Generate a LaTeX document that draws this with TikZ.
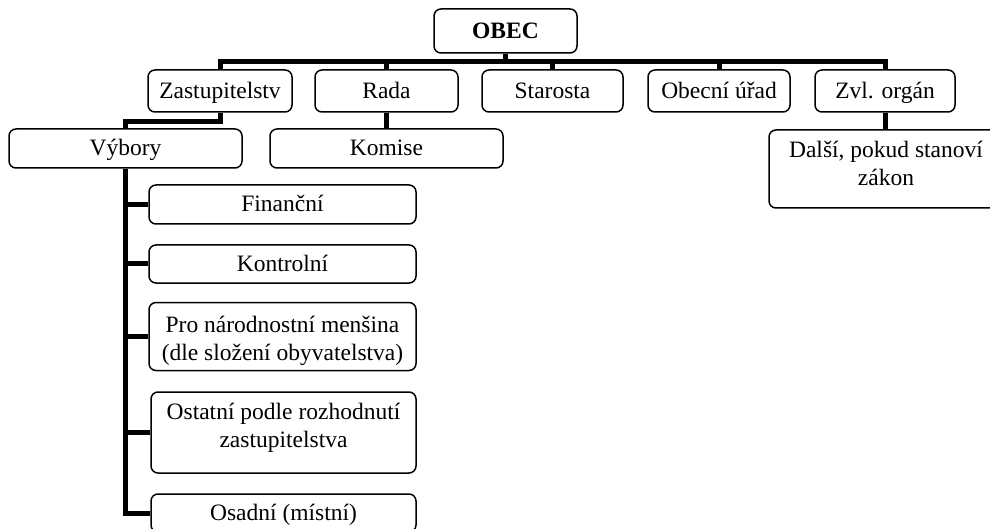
\documentclass[tikz,border=0pt]{standalone}
\usepackage{fontspec}
\setmainfont{Liberation Serif}
\begin{document}
\begin{tikzpicture}[x=1pt,y=-1pt,
  box/.style={draw, line width=1.5pt, rounded corners=7pt, inner sep=0pt, align=center,
    font=\fontsize{23.5}{28}\selectfont},
  one/.style={text height=18pt, text depth=3pt},
  conn/.style={line width=5pt, line join=miter}]
\useasboundingbox (0,0) rectangle (990,529);
% top level
\node[box, one, minimum width=143, minimum height=44, font=\fontsize{23.5}{28}\selectfont\bfseries] (obec) at (505.5,31) {OBEC};
\node[box, one, minimum width=144, minimum height=42] (zast) at (220,91) {Zastupitelstv};
\node[box, one, minimum width=143, minimum height=42] (rada) at (386.5,91) {Rada};
\node[box, one, minimum width=141, minimum height=42] (star) at (552.5,91) {Starosta};
\node[box, one, minimum width=142, minimum height=42] (obu) at (719,91) {Obecní úřad};
\node[box, one, minimum width=140, minimum height=42] (zvl) at (885,91) {Zvl. orgán};
% second level
\node[box, one, minimum width=233, minimum height=39] (vyb) at (125.5,148.5) {Výbory};
\node[box, one, minimum width=233, minimum height=39] (kom) at (386.5,148.5) {Komise};
\node[box, minimum width=234, minimum height=78, text height=45pt, text depth=12pt] (dal) at (886,169) {Další, pokud stanoví\\zákon};
% committees
\node[box, one, minimum width=267, minimum height=39] (fin) at (282.5,204.5) {Finanční};
\node[box, one, minimum width=267, minimum height=38] (kon) at (282.5,264) {Kontrolní};
\node[box, minimum width=267, minimum height=68, text height=50pt, text depth=2pt] (pro) at (282.5,336.5) {Pro národnostní menšina\\(dle složení obyvatelstva)};
\node[box, minimum width=265, minimum height=81, text height=45pt, text depth=15pt] (ost) at (283.5,432.5) {Ostatní podle rozhodnutí\\zastupitelstva};
\node[box, one, minimum width=265, minimum height=38] (osa) at (283.5,513) {Osadní (místní)};
% bus
\coordinate (bus) at (0,62);
\draw[conn] (zast.north) -- (zast.north |- bus) -- (zvl.north |- bus) -- (zvl.north);
\draw[conn] (obec.south) -- (obec.south |- bus);
\draw[conn] (rada.north) -- (rada.north |- bus);
\draw[conn] (star.north) -- (star.north |- bus);
\draw[conn] (obu.north) -- (obu.north |- bus);
% children
\draw[conn] (zast.south) -- ++(0,9) -| (vyb.north);
\draw[conn] (rada.south) -- (kom.north);
\draw[conn] (zvl.south) -- (zvl.south |- dal.north);
% committee spine
\draw[conn] (vyb.south) |- (osa.west);
\draw[conn] (vyb.south |- fin.west) -- (fin.west);
\draw[conn] (vyb.south |- kon.west) -- (kon.west);
\draw[conn] (vyb.south |- pro.west) -- (pro.west);
\draw[conn] (vyb.south |- ost.west) -- (ost.west);
\end{tikzpicture}
\end{document}
